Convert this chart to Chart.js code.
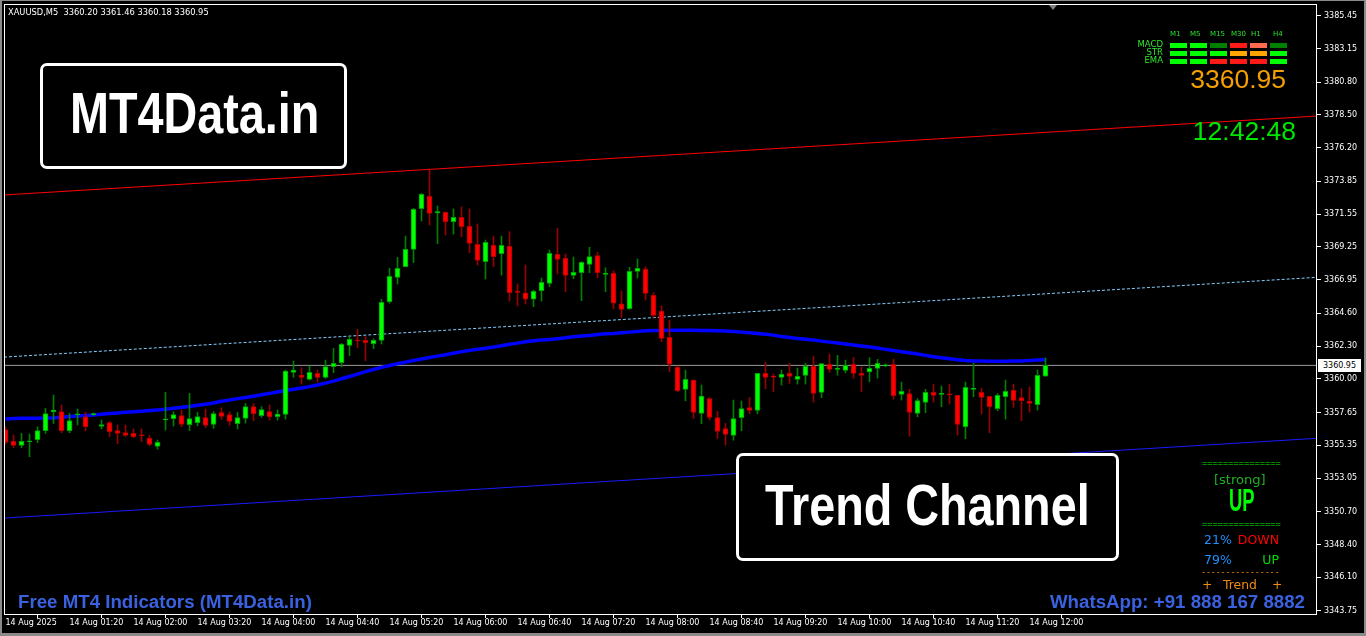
<!DOCTYPE html>
<html>
<head>
<meta charset="utf-8">
<title>XAUUSD M5 Trend Channel</title>
<script src="https://cdn.jsdelivr.net/npm/chart.js@4.4.1/dist/chart.umd.min.js"></script>
<style>
html, body { margin: 0; padding: 0; background: #000; overflow: hidden; }
#wrap { position: relative; width: 1366px; height: 636px; background: #000; }
#chart { position: absolute; left: 0; top: 0; }
.t { position: absolute; white-space: pre; line-height: 1; font-family: "Liberation Sans", Arial, sans-serif; }
.dv { font-family: "DejaVu Sans", Verdana, sans-serif; }
.box { position: absolute; border: 3px solid #fff; border-radius: 7px; background: #000; }
.big { font-weight: bold; font-size: 57px; color: #fff; transform: scaleX(0.82); transform-origin: left top; }
.blue { font-weight: bold; font-size: 18.7px; color: #3a62e0; }
.cell { position: absolute; width: 17px; height: 5px; }
.lime { color: #2ee62e; }
</style>
</head>
<body>
<div id="wrap">
  <canvas id="chart" width="1366" height="636"></canvas>

  <div class="t dv" id="hdr" style="left:8px;top:8px;font-size:8.3px;color:#fff;"></div>

  <div class="box" style="left:40px;top:63px;width:301px;height:100px;"></div>
  <div class="t big" style="left:70px;top:85px;">MT4Data.in</div>

  <div class="box" style="left:736px;top:453px;width:377px;height:102px;"></div>
  <div class="t big" style="left:765px;top:477px;">Trend Channel</div>

  <div class="t blue" style="left:18px;top:593px;">Free MT4 Indicators (MT4Data.in)</div>
  <div class="t blue" style="right:61px;top:593px;">WhatsApp: +91 888 167 8882</div>

  <div id="panel"></div>
  <div class="t" id="bigPrice" style="right:80px;top:66px;font-size:26.5px;color:#f5a000;"></div>
  <div class="t" style="right:70px;top:118px;font-size:26.5px;color:#00e600;">12:42:48</div>

  <div class="t" style="left:1202px;top:459px;font-size:9px;color:#00ff00;">===============</div>
  <div class="t dv" style="left:1214px;top:473px;font-size:13px;color:#20b020;">[strong]</div>
  <div class="t" style="left:1229px;top:486px;font-size:30.7px;font-weight:bold;color:#00ff00;transform:scaleX(0.6);transform-origin:left top;">UP</div>
  <div class="t" style="left:1202px;top:520px;font-size:9px;color:#00ff00;">===============</div>
  <div class="t dv" style="left:1204px;top:534px;font-size:12.5px;color:#1e90ff;">21%</div>
  <div class="t dv" style="right:87px;top:534px;font-size:12.5px;color:#ff0000;">DOWN</div>
  <div class="t dv" style="left:1204px;top:554px;font-size:12.5px;color:#1e90ff;">79%</div>
  <div class="t dv" style="right:87px;top:554px;font-size:12.5px;color:#00e000;">UP</div>
  <div class="t" style="left:1202px;top:568px;font-size:9px;letter-spacing:1.9px;color:#f08a10;">----------------</div>
  <div class="t dv" style="left:1202px;top:579px;font-size:12.4px;color:#f08a10;">+</div>
  <div class="t dv" style="left:1223px;top:579px;font-size:12.4px;color:#f08a10;">Trend</div>
  <div class="t dv" style="left:1272px;top:579px;font-size:12.4px;color:#f08a10;">+</div>

  <div style="position:absolute;left:1049px;top:5px;width:0;height:0;border-left:4px solid transparent;border-right:4px solid transparent;border-top:5px solid #808080;"></div>
  <div class="t dv" id="priceTag" style="left:1318px;width:43px;height:13px;background:#fff;color:#000;font-size:8px;text-align:center;line-height:13px;"></div>
</div>

<script>
// time axis labels, one every 8 bars
const xTickLabels = ['14 Aug 2025', '14 Aug 01:20', '14 Aug 02:00', '14 Aug 03:20', '14 Aug 04:00', '14 Aug 04:40',
  '14 Aug 05:20', '14 Aug 06:00', '14 Aug 06:40', '14 Aug 07:20', '14 Aug 08:00', '14 Aug 08:40',
  '14 Aug 09:20', '14 Aug 10:00', '14 Aug 10:40', '14 Aug 11:20', '14 Aug 12:00'];
const yTickLabels = [3385.45, 3383.15, 3380.80, 3378.50, 3376.20, 3373.85, 3371.55, 3369.25, 3366.95, 3364.60,
  3362.30, 3360.00, 3357.65, 3355.35, 3353.05, 3350.70, 3348.40, 3346.10, 3343.75];

// M5 candles
const opens = [3356.46,3355.62,3355.34,3355.60,3355.74,3356.37,3357.70,3357.72,3356.37,3357.49,
  3357.35,3357.50,3356.67,3356.95,3356.39,3356.25,3356.18,3356.07,3355.83,3355.27,
  3357.14,3357.21,3357.44,3356.79,3356.93,3357.30,3356.81,3357.65,3357.51,3356.86,
  3357.23,3358.07,3357.42,3357.72,3357.35,3357.51,3360.46,3360.27,3359.97,3360.39,
  3360.11,3360.86,3361.14,3362.35,3362.73,3362.70,3362.47,3362.70,3365.41,3367.12,
  3367.87,3369.08,3371.93,3372.79,3371.65,3371.67,3371.02,3371.32,3370.69,3369.43,
  3368.22,3369.36,3368.78,3369.29,3366.11,3366.04,3365.58,3366.18,3366.70,3368.73,
  3368.45,3367.26,3367.44,3368.03,3368.64,3367.33,3367.40,3365.27,3364.92,3367.54,
  3367.70,3365.85,3364.76,3362.91,3360.81,3359.27,3359.92,3357.58,3358.63,3357.30,
  3356.53,3356.04,3357.28,3358.00,3357.79,3360.39,3360.18,3360.11,3360.39,3359.97,
  3360.25,3360.88,3359.06,3361.02,3360.67,3360.60,3361.02,3360.39,3360.50,3360.74,
  3360.92,3361.02,3358.92,3358.98,3357.58,3358.35,3359.06,3358.92,3358.94,3358.85,
  3356.65,3359.27,3359.06,3358.78,3357.91,3358.75,3359.20,3358.70,3358.45,3358.19,
  3360.20];
const highs = [3356.65,3356.07,3356.18,3356.14,3356.65,3357.93,3358.87,3358.17,3357.58,3357.89,
  3357.65,3357.62,3357.12,3357.02,3356.77,3356.77,3356.49,3356.49,3356.04,3355.72,
  3359.06,3357.70,3357.82,3358.99,3357.65,3357.89,3357.70,3357.98,3357.70,3357.65,
  3358.28,3358.28,3358.05,3358.17,3357.82,3360.62,3361.25,3360.79,3360.90,3360.62,
  3361.32,3362.14,3362.49,3362.96,3363.47,3362.96,3362.82,3365.58,3367.75,3368.52,
  3370.01,3371.95,3373.00,3374.64,3372.12,3371.72,3371.91,3372.05,3371.91,3370.86,
  3369.73,3370.01,3370.01,3370.32,3366.65,3367.98,3366.23,3367.07,3369.03,3370.55,
  3368.75,3368.54,3368.22,3369.22,3368.87,3367.79,3367.56,3366.16,3367.82,3368.40,
  3367.86,3366.04,3365.11,3364.12,3360.90,3360.62,3359.92,3359.57,3358.70,3357.72,
  3356.88,3358.52,3358.45,3358.70,3360.39,3361.16,3360.34,3360.62,3361.09,3360.76,
  3361.09,3361.60,3361.07,3361.74,3361.65,3361.32,3361.51,3360.85,3361.48,3361.37,
  3361.05,3361.37,3359.78,3359.27,3358.63,3359.27,3359.64,3359.50,3359.64,3358.85,
  3359.78,3361.09,3359.34,3358.78,3358.98,3359.92,3359.64,3359.31,3359.45,3360.62,
  3361.46];
const lows = [3355.43,3355.18,3355.18,3354.55,3355.53,3356.18,3356.88,3356.23,3356.23,3356.77,
  3356.37,3357.45,3356.49,3355.95,3355.46,3355.95,3355.88,3355.60,3355.32,3355.08,
  3356.42,3356.70,3356.65,3356.37,3356.72,3356.58,3356.53,3357.16,3356.77,3356.49,
  3356.91,3357.07,3357.30,3357.12,3357.12,3357.19,3360.11,3359.64,3359.92,3359.78,
  3360.04,3360.44,3360.86,3361.63,3362.19,3361.28,3362.12,3362.45,3365.30,3366.65,
  3367.85,3368.15,3371.07,3370.79,3369.48,3370.08,3370.15,3369.97,3368.85,3367.98,
  3367.00,3367.87,3367.28,3365.46,3365.11,3365.25,3365.06,3365.46,3366.46,3367.35,
  3366.11,3367.02,3365.48,3367.44,3367.09,3366.11,3364.92,3364.31,3364.87,3367.07,
  3365.53,3364.31,3362.61,3360.50,3359.10,3358.47,3357.23,3356.86,3357.12,3355.83,
  3355.36,3355.71,3356.37,3357.56,3357.56,3359.31,3359.10,3359.57,3359.69,3359.64,
  3359.64,3358.38,3358.68,3360.46,3360.27,3360.43,3360.04,3359.10,3359.80,3360.06,
  3360.85,3358.59,3358.52,3355.99,3357.35,3357.63,3358.38,3358.05,3358.24,3356.06,
  3355.81,3358.75,3357.54,3356.23,3357.77,3357.19,3358.00,3357.07,3357.68,3357.82,
  3360.18];
const closes = [3355.55,3355.34,3355.62,3355.65,3356.39,3357.58,3357.82,3356.37,3357.09,3357.54,
  3356.65,3357.56,3356.81,3356.30,3356.18,3356.04,3355.95,3356.02,3355.41,3355.55,
  3357.19,3357.51,3356.81,3357.23,3357.37,3356.74,3357.58,3357.37,3357.02,3357.30,
  3358.07,3357.56,3357.86,3357.35,3357.54,3360.55,3360.62,3360.11,3360.46,3360.11,
  3360.86,3361.09,3362.42,3362.77,3362.66,3362.54,3362.70,3365.37,3367.19,3367.75,
  3369.08,3371.88,3372.93,3371.60,3371.70,3371.02,3371.32,3370.67,3369.50,3368.31,
  3369.57,3368.57,3369.36,3366.04,3366.07,3365.58,3366.14,3366.77,3368.80,3368.38,
  3367.26,3367.47,3368.17,3368.57,3367.44,3367.40,3365.30,3364.87,3367.54,3367.75,
  3365.99,3364.45,3362.84,3361.04,3359.17,3359.97,3357.65,3358.80,3357.30,3356.32,
  3356.11,3357.23,3357.93,3357.79,3360.39,3360.11,3360.13,3360.32,3360.18,3360.18,
  3360.88,3358.98,3361.07,3360.67,3360.71,3360.95,3360.39,3360.25,3360.74,3361.09,
  3360.97,3358.82,3359.13,3357.65,3358.49,3359.06,3358.85,3358.96,3358.89,3356.81,
  3359.41,3359.34,3358.70,3358.05,3358.85,3359.13,3358.49,3358.47,3358.28,3360.25,
  3360.95];

// moving average (thick blue)
const maValues = [3357.19,3357.22,3357.24,3357.24,3357.25,3357.26,3357.27,3357.31,3357.36,3357.40,
  3357.44,3357.48,3357.52,3357.57,3357.62,3357.66,3357.70,3357.74,3357.79,3357.83,
  3357.88,3357.94,3358.01,3358.07,3358.15,3358.23,3358.32,3358.43,3358.53,3358.62,
  3358.70,3358.79,3358.89,3358.99,3359.09,3359.19,3359.28,3359.37,3359.46,3359.57,
  3359.71,3359.85,3360.01,3360.17,3360.34,3360.51,3360.66,3360.81,3360.94,3361.07,
  3361.18,3361.29,3361.39,3361.50,3361.60,3361.70,3361.81,3361.91,3362.00,3362.08,
  3362.15,3362.23,3362.33,3362.43,3362.51,3362.60,3362.67,3362.72,3362.77,3362.82,
  3362.88,3362.95,3363.00,3363.05,3363.11,3363.16,3363.19,3363.24,3363.28,3363.33,
  3363.37,3363.39,3363.40,3363.41,3363.41,3363.41,3363.41,3363.40,3363.40,3363.38,
  3363.36,3363.33,3363.28,3363.24,3363.19,3363.13,3363.07,3362.98,3362.91,3362.84,
  3362.78,3362.72,3362.65,3362.58,3362.51,3362.44,3362.37,3362.30,3362.24,3362.16,
  3362.07,3361.99,3361.91,3361.83,3361.74,3361.65,3361.56,3361.48,3361.41,3361.34,
  3361.29,3361.26,3361.25,3361.24,3361.24,3361.24,3361.25,3361.25,3361.30,3361.33,
  3361.36];

// trend channel, ends at the left and right edge of the plot
const channelX = [-0.19, 163.94];
const channelTop = [3372.89, 3378.42];
const channelMid = [3361.53, 3367.12];
const channelLow = [3350.25, 3355.84];

// signal matrix, columns M1 M5 M15 M30 H1 H4
const timeframes = ['M1', 'M5', 'M15', 'M30', 'H1', 'H4'];
const macdRow = ['#00ff00', '#00ff00', '#008000', '#ff1a1a', '#ff6a50', '#008000'];
const strRow = ['#00ff00', '#00ff00', '#00ff00', '#ffa500', '#ffa500', '#00ff00'];
const emaRow = ['#00ff00', '#00ff00', '#ff1a1a', '#ff1a1a', '#ff1a1a', '#00ff00'];

const last = closes.length - 1;
const lastPrice = closes[last];

document.getElementById('hdr').textContent =
  'XAUUSD,M5  ' + [opens[last], highs[last], lows[last], closes[last]].map(v => v.toFixed(2)).join(' ');
document.getElementById('bigPrice').textContent = lastPrice.toFixed(2);
document.getElementById('priceTag').textContent = lastPrice.toFixed(2);

// build the little signal panel
const panel = document.getElementById('panel');
const headerLeft = [1170, 1190, 1210, 1231, 1251, 1273];
timeframes.forEach(function(tf, k) {
  const d = document.createElement('div');
  d.className = 't dv lime';
  d.style.cssText = 'left:' + headerLeft[k] + 'px;top:31px;font-size:7px;';
  d.textContent = tf;
  panel.appendChild(d);
});
[['MACD', macdRow], ['STR', strRow], ['EMA', emaRow]].forEach(function(row, r) {
  const lab = document.createElement('div');
  lab.className = 't dv lime';
  lab.style.cssText = 'right:203px;top:' + (40 + r * 8) + 'px;font-size:8.5px;';
  lab.textContent = row[0];
  panel.appendChild(lab);
  row[1].forEach(function(c, k) {
    const cell = document.createElement('div');
    cell.className = 'cell';
    cell.style.cssText = 'left:' + (1170 + k * 20) + 'px;top:' + (43 + r * 8) + 'px;background:' + c + ';';
    panel.appendChild(cell);
  });
});

const bull = closes.map((c, i) => c >= opens[i]);
const xy = arr => arr.map((v, i) => ({ x: i, y: v }));
const twoPoints = arr => arr.map((v, k) => ({ x: channelX[k], y: v }));

const framePlugin = {
  id: 'frame',
  afterDraw(chart) {
    const c = chart.ctx, a = chart.chartArea;
    c.save();
    c.strokeStyle = '#ffffff';
    c.lineWidth = 1;
    c.strokeRect(a.left + 0.5, a.top + 0.5, a.right - a.left - 1, a.bottom - a.top);
    c.fillStyle = '#8a8a8a';
    c.fillRect(0, 0, chart.width, 1);
    c.fillRect(0, 0, 2, chart.height);
    c.fillRect(0, chart.height - 3, chart.width, 3);
    c.fillRect(chart.width - 2, 0, 2, chart.height);
    c.restore();
    const y = chart.scales.y.getPixelForValue(lastPrice);
    document.getElementById('priceTag').style.top = Math.round(y - 6.5) + 'px';
  }
};

const axisFont = { family: 'DejaVu Sans', size: 8 };

const ctx = document.getElementById('chart').getContext('2d');
new Chart(ctx, {
  type: 'bar',
  data: {
    datasets: [
      {
        type: 'bar', label: 'bodies', order: 1, grouped: false,
        data: opens.map((o, i) => ({ x: i, y: [o, closes[i]] })),
        backgroundColor: bull.map(b => b ? '#00ff00' : '#ff0000'),
        borderColor: bull.map(b => b ? '#00a000' : '#b00000'),
        borderWidth: 1, borderSkipped: false, barThickness: 5, minBarLength: 1
      },
      {
        type: 'bar', label: 'wicks', order: 2, grouped: false,
        data: lows.map((l, i) => ({ x: i, y: [l, highs[i]] })),
        backgroundColor: bull.map(b => b ? '#008000' : '#990000'),
        barThickness: 1
      },
      {
        type: 'line', label: 'MA', order: 3, data: xy(maValues),
        borderColor: '#0000ff', borderWidth: 3.5, pointRadius: 0, tension: 0
      },
      {
        type: 'line', label: 'price', order: 4,
        data: channelX.map(x => ({ x: x, y: lastPrice })),
        borderColor: '#9a9a9a', borderWidth: 1, pointRadius: 0
      },
      {
        type: 'line', label: 'channel top', order: 5, data: twoPoints(channelTop),
        borderColor: '#ff0000', borderWidth: 1, pointRadius: 0
      },
      {
        type: 'line', label: 'channel mid', order: 5, data: twoPoints(channelMid),
        borderColor: '#87cefa', borderWidth: 1, borderDash: [3, 2], pointRadius: 0
      },
      {
        type: 'line', label: 'channel low', order: 5, data: twoPoints(channelLow),
        borderColor: '#1a1aff', borderWidth: 1, pointRadius: 0
      }
    ]
  },
  options: {
    responsive: false,
    animation: false,
    layout: { padding: { left: 4, top: 4, right: 0, bottom: 0 } },
    plugins: { legend: { display: false }, tooltip: { enabled: false } },
    scales: {
      x: {
        type: 'linear', min: -0.19, max: 163.94, offset: false,
        afterBuildTicks: s => { s.ticks = xTickLabels.map((_, k) => ({ value: k * 8 })); },
        afterFit: s => { s.height = 22; s.paddingLeft = 0; s.paddingRight = 0; },
        ticks: {
          color: '#ffffff', font: axisFont,
          align: 'start', autoSkip: false, maxRotation: 0, padding: 0,
          callback: v => xTickLabels[Math.round(v / 8)]
        },
        grid: { drawOnChartArea: false, tickLength: 4, color: '#ffffff' },
        border: { display: false }
      },
      y: {
        type: 'linear', position: 'right', min: 3343.53, max: 3386.27,
        afterBuildTicks: s => { s.ticks = yTickLabels.map(v => ({ value: v })); },
        afterFit: s => { s.width = 49; s.paddingTop = 0; s.paddingBottom = 0; },
        ticks: {
          color: '#ffffff', font: axisFont,
          padding: 3, callback: v => v.toFixed(2)
        },
        grid: { drawOnChartArea: false, tickLength: 4, color: '#ffffff' },
        border: { display: false }
      }
    }
  },
  plugins: [framePlugin]
});
</script>
</body>
</html>
